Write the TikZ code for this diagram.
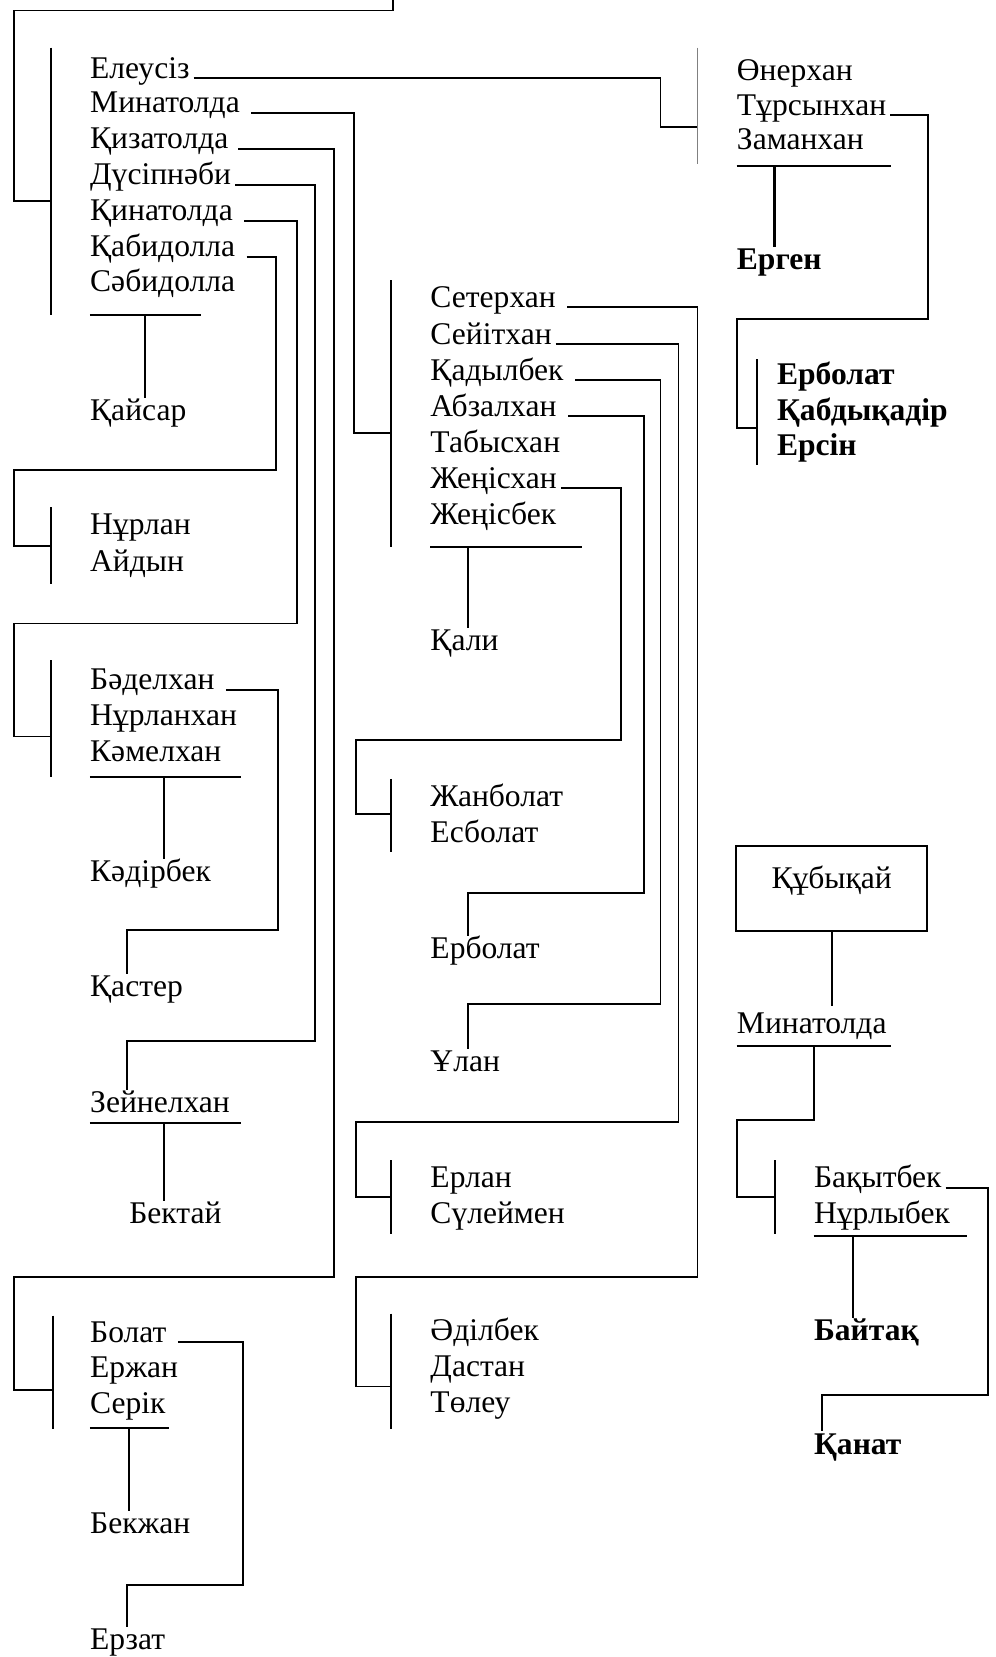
\documentclass[tikz,border=0pt]{standalone}
\usepackage{fontspec}
\setmainfont{Liberation Serif}
\usetikzlibrary{positioning}

\tikzset{
  person/.style={anchor=west, inner sep=0pt, text height=12pt, text depth=3pt,
    font=\fontsize{17}{20}\selectfont},
  heavy/.style={person, font=\fontsize{17}{20}\selectfont\bfseries},
  kin/.style={line width=1pt},
}

\begin{document}
\begin{tikzpicture}[x=0.02cm,y=-0.02cm]
  \useasboundingbox (0,0) rectangle (942,1568);

  % left column, first generation
  \node[person] (ele)   at (85,66)  {Елеусіз};
  \node[person] (mina)  at (85,99)  {Минатолда};
  \node[person] (qiza)  at (85,133) {Қизатолда};
  \node[person] (dusip) at (85,167) {Дүсіпнәби};
  \node[person] (qina)  at (85,201) {Қинатолда};
  \node[person] (qabi)  at (85,235) {Қабидолла};
  \node[person] (sabi)  at (85,268) {Сәбидолла};
  \node[person] (qaisar) at (85,390) {Қайсар};
  \coordinate (topin) at (372,0);
  \coordinate (barA) at (48,190);
  \draw[kin] (topin) |- (13,10) |- (barA);
  \draw[kin] (48,45) -- (48,298);
  \draw[kin] (85,298) -- (190,298);
  \draw[kin] (137,298) -- (qaisar.north -| 137,0);

  \node[person] (nurlan) at (85,498) {Нұрлан};
  \node[person] (aidyn)  at (85,533) {Айдын};
  \coordinate (barN) at (48,517);
  \draw[kin] (48,480) -- (48,553);

  \node[person] (badel) at (85,645) {Бәделхан};
  \node[person] (nurkh) at (85,679) {Нұрланхан};
  \node[person] (kamel) at (85,713) {Кәмелхан};
  \node[person] (kadir) at (85,826) {Кәдірбек};
  \node[person] (qaster) at (85,935) {Қастер};
  \coordinate (barD) at (48,697);
  \draw[kin] (48,625) -- (48,735);
  \draw[kin] (85,735) -- (228,735);
  \draw[kin] (155,735) -- (kadir.north -| 155,0);

  \node[person] (zeinel) at (85,1045) {Зейнелхан};
  \node[person] (bektai) at (122,1150) {Бектай};
  \draw[kin] (85,1063) -- (228,1063);
  \draw[kin] (155,1063) -- (bektai.north -| 155,0);

  \node[person] (bolat)  at (85,1262) {Болат};
  \node[person] (erzhan) at (85,1296) {Ержан};
  \node[person] (serik)  at (85,1330) {Серік};
  \node[person] (bekzhan) at (85,1443) {Бекжан};
  \node[person] (erzat)  at (85,1553) {Ерзат};
  \coordinate (barB) at (50,1315);
  \draw[kin] (50,1245) -- (50,1352);
  \draw[kin] (85,1351) -- (160,1351);
  \draw[kin] (122,1351) -- (bekzhan.north -| 122,0);

  % middle column
  \node[person] (seter) at (407,283) {Сетерхан};
  \node[person] (seyit) at (407,318) {Сейітхан};
  \node[person] (qadyl) at (407,352) {Қадылбек};
  \node[person] (abzal) at (407,386) {Абзалхан};
  \node[person] (tabys) at (407,420) {Табысхан};
  \node[person] (zhkhan) at (407,454) {Жеңісхан};
  \node[person] (zhbek) at (407,488) {Жеңісбек};
  \node[person] (qali)  at (407,608) {Қали};
  \coordinate (barS) at (370,410);
  \draw[kin] (370,265) -- (370,518);
  \draw[kin] (407,518) -- (551,518);
  \draw[kin] (443,518) -- (qali.north -| 443,0);

  \node[person] (zhanb) at (407,755) {Жанболат};
  \node[person] (esb)   at (407,789) {Есболат};
  \coordinate (barZ) at (370,770);
  \draw[kin] (370,737) -- (370,806);
  \node[person] (erbol) at (407,899)  {Ерболат};
  \node[person] (ulan)  at (407,1006) {Ұлан};

  \node[person] (erlan) at (407,1116) {Ерлан};
  \node[person] (suleim) at (407,1150) {Сүлеймен};
  \coordinate (barE) at (370,1133);
  \draw[kin] (370,1098) -- (370,1168);

  \node[person] (adil)  at (407,1261) {Әділбек};
  \node[person] (dastan) at (407,1295) {Дастан};
  \node[person] (toleu) at (407,1329) {Төлеу};
  \coordinate (barT) at (370,1312);
  \draw[kin] (370,1243) -- (370,1352);

  % right column
  \node[person] (oner)   at (697,68)  {Өнерхан};
  \node[person] (tursyn) at (697,101) {Тұрсынхан};
  \node[person] (zaman)  at (697,134) {Заманхан};
  \node[heavy]  (ergen)  at (697,247) {Ерген};
  \coordinate (barO) at (660,120);
  \draw[kin,gray] (660,45) -- (660,155);
  \draw[kin] (697,157) -- (843,157);
  \draw[line width=1.8pt] (733,157) -- (ergen.north -| 733,0);

  \node[heavy] (erbolr) at (735,356) {Ерболат};
  \node[heavy] (qabd)   at (735,390) {Қабдықадір};
  \node[heavy] (ersin)  at (735,423) {Ерсін};
  \coordinate (barR) at (716,405);
  \draw[kin] (716,340) -- (716,440);

  \node[draw, line width=1pt, anchor=north, minimum width=3.62cm, minimum height=1.6cm,
    inner sep=0pt, text height=12pt, text depth=12pt, font=\fontsize{17}{20}\selectfont]
    (qubyq) at (787,800) {Құбықай};
  \node[person] (mina2) at (697,970) {Минатолда};
  \coordinate (minafoot) at (770,990);
  \draw[kin] (qubyq.south) -- (787,952);
  \draw[kin] (697,990) -- (843,990);

  \node[person] (bakyt) at (770,1116) {Бақытбек};
  \node[person] (nurly) at (770,1150) {Нұрлыбек};
  \node[heavy]  (baitaq) at (770,1261) {Байтақ};
  \node[heavy]  (qanat)  at (770,1368) {Қанат};
  \coordinate (barQ) at (733,1133);
  \draw[kin] (733,1098) -- (733,1168);
  \draw[kin] (770,1170) -- (915,1170);
  \draw[kin] (807,1170) -- (baitaq.north -| 807,0);

  % links to the children
  \draw[kin] ([xshift=2pt]ele.base east) -| (625,120) -- (barO);
  \draw[kin] ([xshift=6pt]mina.base east) -| (335,410) -- (barS);
  \draw[kin] ([xshift=5pt]qiza.base east) -| (316,1208) -| (13,1315) -- (barB);
  \draw[kin] ([xshift=2pt]dusip.base east) -| (298,985) -| (zeinel.north -| 120,0);
  \draw[kin] ([xshift=6pt]qina.base east) -| (281,590) -| (13,697) -- (barD);
  \draw[kin] ([xshift=6pt]qabi.base east) -| (261,445) -| (13,517) -- (barN);
  \draw[kin] ([xshift=6pt]badel.base east) -| (263,880) -| (qaster.north -| 120,0);
  \draw[kin] ([xshift=6pt]bolat.base east) -| (230,1500) -| (erzat.north -| 120,0);
  \draw[kin] ([xshift=6pt]seter.base east) -| (660,1208) -| (337,1312) -- (barT);
  \draw[kin] ([xshift=2pt]seyit.base east) -| (642,1062) -| (337,1133) -- (barE);
  \draw[kin] ([xshift=6pt]qadyl.base east) -| (625,950) -| (ulan.north -| 443,0);
  \draw[kin] ([xshift=6pt]abzal.base east) -| (609,845) -| (erbol.north -| 443,0);
  \draw[kin] ([xshift=2pt]zhkhan.base east) -| (588,700) -| (337,770) -- (barZ);
  \draw[kin] ([xshift=2pt]tursyn.base east) -| (878,302) -| (697,405) -- (barR);
  \draw[kin] (minafoot) |- (697,1060) |- (barQ);
  \draw[kin] ([xshift=2pt]bakyt.base east) -| (935,1320) -| (qanat.north -| 778,0);
\end{tikzpicture}
\end{document}
